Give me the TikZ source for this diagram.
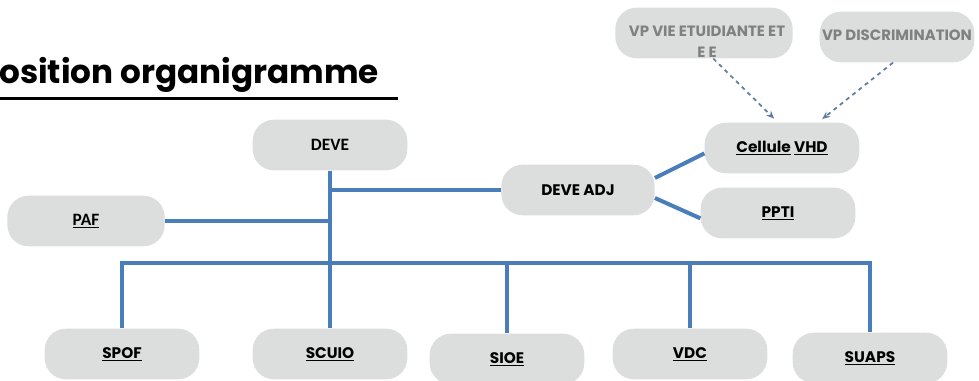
\documentclass[tikz,border=0pt]{standalone}
\usepackage{fontspec}
\newfontfamily\pop{Poppins}[BoldFont={Poppins Bold}]
\newfontfamily\calib{Carlito Bold}
\usetikzlibrary{arrows.meta}
\definecolor{boxgray}{RGB}{220,222,221}
\definecolor{linkblue}{RGB}{74,126,187}
\definecolor{dashblue}{RGB}{95,125,160}
\definecolor{vpgray}{RGB}{128,128,128}
\tikzset{
    box/.style={rounded corners=16pt, fill=boxgray, minimum width=116pt, minimum height=38pt, inner sep=0, font=\pop\bfseries\fontsize{11.5}{14}\selectfont},
    cbox/.style={box, font=\calib\fontsize{13}{15}\selectfont},
    vpbox/.style={box, minimum width=133pt, text=vpgray, font=\pop\bfseries\fontsize{11.2}{15.75}\selectfont},
    vptext/.style={text=vpgray, align=center, inner sep=0, font=\pop\bfseries\fontsize{11.2}{15.75}\selectfont},
    link/.style={draw=linkblue, line width=3pt},
    vplink/.style={draw=dashblue, line width=1.3pt, dashed, shorten >=4pt, -{Stealth[length=6pt,width=5pt]}}
}

\begin{document}
\begin{tikzpicture}[x=0.75pt, y=-0.75pt]
    \path[use as bounding box] (0,0) rectangle (979,380);

    % titre
    \node[anchor=base west, inner sep=0, font=\pop\bfseries\fontsize{24.5}{27}\selectfont] (title) at (-1,83) {osition organigramme};
    \draw[line width=2.25pt] (0,98) -- (398,98);

    % boites
    \node[cbox] (deve) at (330,145) {DEVE};
    \node[cbox, minimum width=118pt] (paf) at (86,221) {\underline{PAF}};
    \node[box, minimum width=115pt] (adj) at (578,190) {DEVE ADJ};
    \node[box] (vhd) at (782,148) {\underline{Cellule} \underline{VHD}};
    \node[box] (ppti) at (778,213) {\underline{PPTI}};

    \node[vpbox] (vpvie) at (704,33) {};
    \node[vptext] (vpvietxt) at (707,42) {VP VIE ETUIDIANTE ET\\E E};
    \node[vpbox, minimum width=116pt] (vpdis) at (897,37) {\raisebox{3pt}{VP DISCRIMINATION}};

    \node[box] (spof) at (122,354) {\underline{SPOF}};
    \node[box] (scuio) at (330,354) {\underline{SCUIO}};
    \node[box] (sioe) at (507,359) {\underline{SIOE}};
    \node[box] (vdc) at (690,354) {\underline{VDC}};
    \node[box] (suaps) at (870,358) {\underline{SUAPS}};

    \coordinate (bus) at (0,263);

    % liaisons
    \draw[link] (deve.south) -- (deve.south |- bus);
    \draw[link] (paf.east) -- (paf.east -| deve.south);
    \draw[link] (deve.south |- adj.west) -- (adj.west);
    \draw[link] ([yshift=9pt]adj.east) -- ([yshift=-4pt]vhd.west);
    \draw[link] ([yshift=-6pt]adj.east) -- ([yshift=-4pt]ppti.west);
    \draw[link] (spof.north) |- (bus -| suaps.north) -- (suaps.north);
    \foreach \n in {scuio,sioe,vdc}
        \draw[link] (\n.north) -- (\n.north |- bus);

    \draw[vplink] ([xshift=7pt]vpvie.south) -- ([xshift=-3pt]vhd.north);
    \draw[vplink] ([xshift=-3pt]vpdis.south) -- ([xshift=27pt]vhd.north);
\end{tikzpicture}
\end{document}
